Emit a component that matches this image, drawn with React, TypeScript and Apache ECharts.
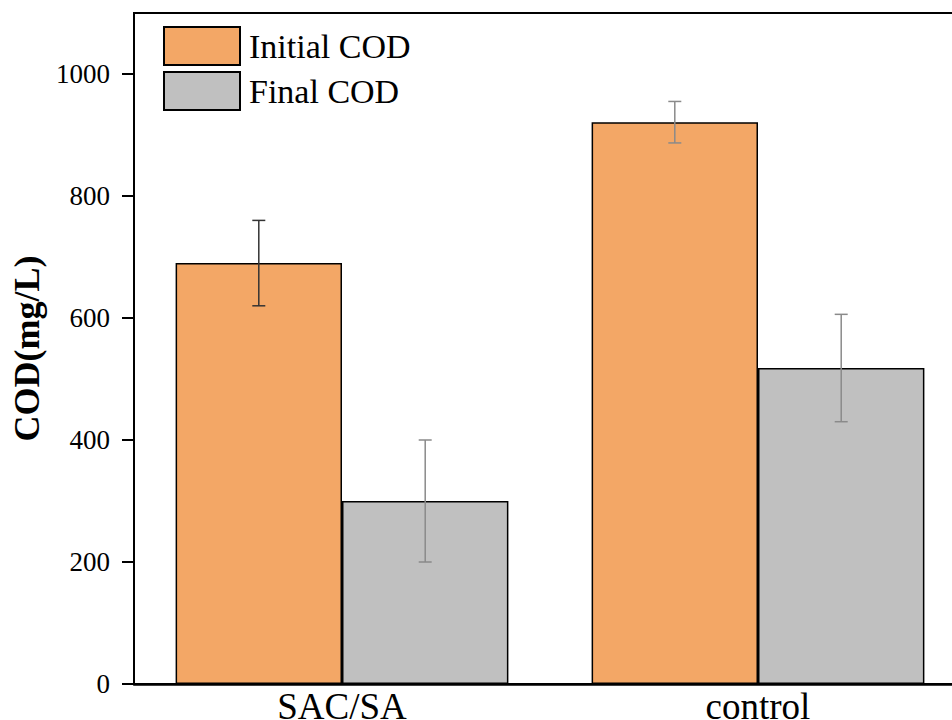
import React, { useEffect, useRef } from "react";
import * as echarts from "echarts";

const categories = ["SAC/SA", "control"];
const seriesNames = ["Initial COD", "Final COD"];
const initialCOD = [690, 921];
const finalCOD = [300, 518];
const initialErr = [70, 34];
const finalErr = [100, 88];
const yTicks = [0, 200, 400, 600, 800, 1000];

const FONT = "Liberation Serif, Times New Roman, serif";

export default function App() {
  const ref = useRef<HTMLDivElement>(null);
  useEffect(() => {
    document.body.style.overflow = "hidden";
    const chart = echarts.init(ref.current!, null, { renderer: "svg" });
    const errData: any[] = [];
    const errColors = [["#333333", "#8a8a8a"], ["#8a8a8a", "#8a8a8a"]];
    [initialCOD, finalCOD].forEach((vals, s) => {
      const errs = s === 0 ? initialErr : finalErr;
      vals.forEach((v, i) => {
        errData.push([i, v - errs[i], v + errs[i], s]);
      });
    });
    chart.setOption({
      animation: false,
      backgroundColor: "#fff",
      grid: {
        left: 134,
        right: 14,
        top: 13,
        bottom: 36,
        containLabel: false,
        outerBoundsMode: "none",
        show: true,
        borderColor: "#000",
        borderWidth: 2,
      },
      legend: {
        orient: "vertical",
        left: 163,
        top: 26,
        padding: 0,
        itemWidth: 76,
        itemHeight: 38,
        itemGap: 5,
        icon: "rect",
        data: seriesNames,
        textStyle: {
          fontFamily: FONT,
          fontSize: 34,
          color: "#000",
          padding: [0, 0, 0, 4],
        },
      },
      xAxis: {
        type: "category",
        data: categories,
        axisLine: { lineStyle: { color: "#000", width: 2.5 } },
        axisTick: { show: false },
        axisLabel: {
          fontFamily: FONT,
          fontSize: 37,
          lineHeight: 28,
          color: "#000",
          margin: 8,
        },
      },
      yAxis: {
        type: "value",
        min: 0,
        max: 1100,
        interval: 200,
        name: "COD(mg/L)",
        nameLocation: "middle",
        nameGap: 84,
        nameTextStyle: {
          fontFamily: FONT,
          fontSize: 36,
          fontWeight: "bold",
          color: "#000",
        },
        splitLine: { show: false },
        axisLine: { show: true, lineStyle: { color: "#000", width: 2 } },
        axisTick: {
          show: true,
          length: 12,
          customValues: yTicks,
          lineStyle: { color: "#000", width: 2 },
        },
        axisLabel: {
          customValues: yTicks,
          formatter: (v: number) => String(v),
          fontFamily: FONT,
          fontSize: 27,
          color: "#000",
          margin: 24,
        },
      },
      series: [
        {
          name: seriesNames[0],
          type: "bar",
          data: initialCOD,
          barGap: "0%",
          barCategoryGap: "20%",
          itemStyle: { color: "#F3A766", borderColor: "#000", borderWidth: 1.5 },
        },
        {
          name: seriesNames[1],
          type: "bar",
          data: finalCOD,
          barGap: "0%",
          barCategoryGap: "20%",
          itemStyle: { color: "#C0C0C0", borderColor: "#000", borderWidth: 1.5 },
        },
        {
          type: "custom",
          data: errData,
          z: 10,
          renderItem: (params: any, api: any) => {
            const cat = api.value(0);
            const s = api.value(3);
            const band = api.size([1, 0])[0];
            const barW = (band * 0.8) / 2;
            const off = s === 0 ? -barW / 2 : barW / 2;
            const lo = api.coord([cat, api.value(1)]);
            const hi = api.coord([cat, api.value(2)]);
            const x = lo[0] + off;
            const cap = 6.5;
            const color = errColors[cat][s];
            const style = { stroke: color, lineWidth: 1.5 };
            return {
              type: "group",
              children: [
                { type: "line", shape: { x1: x, y1: hi[1], x2: x, y2: lo[1] }, style },
                { type: "line", shape: { x1: x - cap, y1: hi[1], x2: x + cap, y2: hi[1] }, style },
                { type: "line", shape: { x1: x - cap, y1: lo[1], x2: x + cap, y2: lo[1] }, style },
              ],
            };
          },
        },
      ],
    });
    return () => chart.dispose();
  }, []);
  return (
    <div
      style={{
        position: "fixed",
        left: 0,
        top: 0,
        width: 952,
        height: 720,
        overflow: "hidden",
        background: "#fff",
      }}
    >
      <div ref={ref} style={{ width: 980, height: 720 }} />
    </div>
  );
}
